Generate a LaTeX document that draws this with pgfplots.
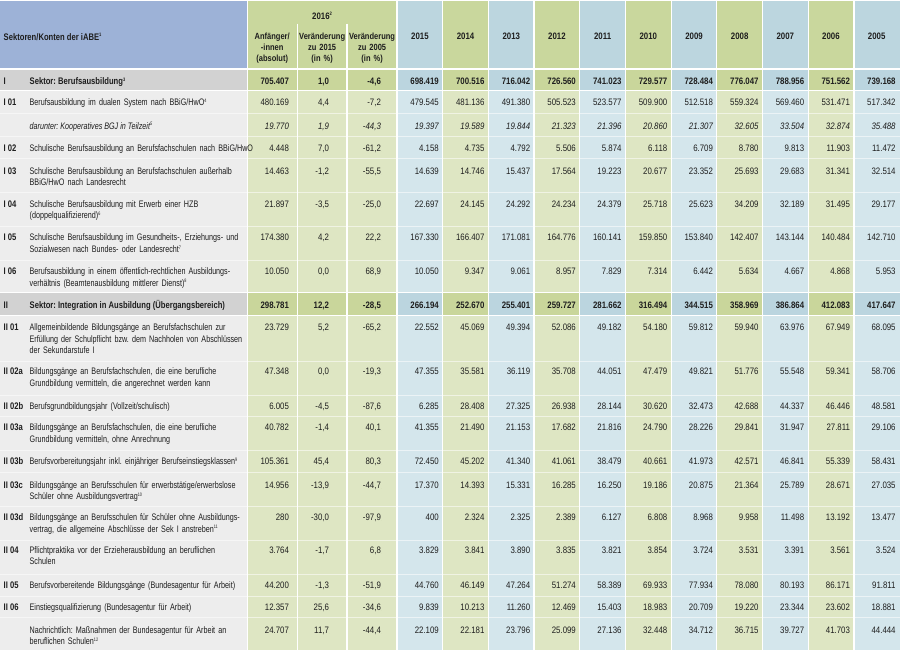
\documentclass[border=0pt]{standalone}
\usepackage{fontspec}
\setmainfont{Liberation Sans}[FakeStretch=0.76]
\newfontfamily\bfam{Liberation Sans}[FakeStretch=0.8]
\newfontfamily\nfam{Liberation Sans}[FakeStretch=0.84]
\usepackage{pgfplots}
\usepackage{pgfplotstable}
\pgfplotsset{compat=1.18}
\frenchspacing

\definecolor{hblue}{HTML}{9DB2D7}
\definecolor{hgreen}{HTML}{C9D79D}
\definecolor{hlblue}{HTML}{BCD6DF}
\definecolor{bgray}{HTML}{EDEDED}
\definecolor{sgray}{HTML}{D2D2D2}
\definecolor{bgreen}{HTML}{DEE6C3}
\definecolor{bblue}{HTML}{D4E6EC}
\definecolor{sgreen}{HTML}{C9D69B}
\definecolor{sblue}{HTML}{BBD5DF}
\definecolor{txt}{HTML}{1E1E1E}

\newcommand{\fL}{\frenchspacing\fontsize{9.5}{11.5}\selectfont}
\newcommand{\fB}{\bfam\bfseries\fontsize{9.6}{11.5}\selectfont}
\newcommand{\fN}{\nfam\fontsize{9.4}{11.5}\selectfont}
\newcommand{\fNB}{\nfam\bfseries\fontsize{9.4}{11.5}\selectfont}
\newcommand{\fNI}{\nfam\itshape\fontsize{9.4}{11.5}\selectfont}
\newcommand{\fH}{\nfam\bfseries\fontsize{9.0}{11.5}\selectfont}
\newcommand{\sps}[1]{\raisebox{3.3bp}{\fontsize{5}{5}\selectfont #1}}

% baseline y of each row, then the values: 2016 (absolut, zu 2015, zu 2005), 2015 ... 2005
\pgfplotstableread{
y a b c d15 d14 d13 d12 d11 d10 d09 d08 d07 d06 d05
105 480.169 4,4 -7,2 479.545 481.136 491.380 505.523 523.577 509.900 512.518 559.324 569.460 531.471 517.342
151 4.448 7,0 -61,2 4.158 4.735 4.792 5.506 5.874 6.118 6.709 8.780 9.813 11.903 11.472
174 14.463 -1,2 -55,5 14.639 14.746 15.437 17.564 19.223 20.677 23.352 25.693 29.683 31.341 32.514
207 21.897 -3,5 -25,0 22.697 24.145 24.292 24.234 24.379 25.718 25.623 34.209 32.189 31.495 29.177
240.5 174.380 4,2 22,2 167.330 166.407 171.081 164.776 160.141 159.850 153.840 142.407 143.144 140.484 142.710
274.5 10.050 0,0 68,9 10.050 9.347 9.061 8.957 7.829 7.314 6.442 5.634 4.667 4.868 5.953
330.5 23.729 5,2 -65,2 22.552 45.069 49.394 52.086 49.182 54.180 59.812 59.940 63.976 67.949 68.095
374.5 47.348 0,0 -19,3 47.355 35.581 36.119 35.708 44.051 47.479 49.821 51.776 55.548 59.341 58.706
409.5 6.005 -4,5 -87,6 6.285 28.408 27.325 26.938 28.144 30.620 32.473 42.688 44.337 46.446 48.581
430.5 40.782 -1,4 40,1 41.355 21.490 21.153 17.682 21.816 24.790 28.226 29.841 31.947 27.811 29.106
464.5 105.361 45,4 80,3 72.450 45.202 41.340 41.061 38.479 40.661 41.973 42.571 46.841 55.339 58.431
488 14.956 -13,9 -44,7 17.370 14.393 15.331 16.285 16.250 19.186 20.875 21.364 25.789 28.671 27.035
520.5 280 -30,0 -97,9 400 2.324 2.325 2.389 6.127 6.808 8.968 9.958 11.498 13.192 13.477
553.5 3.764 -1,7 6,8 3.829 3.841 3.890 3.835 3.821 3.854 3.724 3.531 3.391 3.561 3.524
588.5 44.200 -1,3 -51,9 44.760 46.149 47.264 51.274 58.389 69.933 77.934 78.080 80.193 86.171 91.811
610.5 12.357 25,6 -34,6 9.839 10.213 11.260 12.469 15.403 18.983 20.709 19.220 23.344 23.602 18.881
633.5 24.707 11,7 -44,4 22.109 22.181 23.796 25.099 27.136 32.448 34.712 36.715 39.727 41.703 44.444
}\normrows

\pgfplotstableread{
y a b c d15 d14 d13 d12 d11 d10 d09 d08 d07 d06 d05
84 705.407 1,0 -4,6 698.419 700.516 716.042 726.560 741.023 729.577 728.484 776.047 788.956 751.562 739.168
308 298.781 12,2 -28,5 266.194 252.670 255.401 259.727 281.662 316.494 344.515 358.969 386.864 412.083 417.647
}\sectrows

\pgfplotstableread{
y a b c d15 d14 d13 d12 d11 d10 d09 d08 d07 d06 d05
128.5 19.770 1,9 -44,3 19.397 19.589 19.844 21.323 21.396 20.860 21.307 32.605 33.504 32.874 35.488
}\darrows

\newcommand{\Col}[5]{%
 \addplot[draw=none, fill=#3] coordinates {(#1,0) (#2,0) (#2,67) (#1,67)};
 \addplot[draw=none, fill=#4] coordinates {(#1,69) (#2,69) (#2,650) (#1,650)};
 \addplot[draw=none, fill=#5] coordinates {(#1,69) (#2,69) (#2,90) (#1,90)};
 \addplot[draw=none, fill=#5] coordinates {(#1,293) (#2,293) (#2,315) (#1,315)};
}
\newcommand{\VL}[3]{\addplot[draw=white, line width=1.3bp] coordinates {(#1,#2) (#1,#3)};}
\newcommand{\HL}[2]{\addplot[draw=white, line width=1bp, draw opacity=#2] coordinates {(0,#1) (900,#1)};}

\newcommand{\One}[4]{%
 \addplot[only marks, mark=*, mark size=0pt, mark options={draw=none,fill=none},
   point meta=explicit symbolic, nodes near coords,
   every node near coord/.append style={anchor=base east, inner sep=0pt, font=#4, text=txt}]
   table[x expr=#3, y=y, meta=#2] {#1};}
\newcommand{\Vals}[2]{%
 \One{#1}{a}{289}{#2}\One{#1}{b}{329}{#2}\One{#1}{c}{381}{#2}%
 \One{#1}{d15}{439}{#2}\One{#1}{d14}{484.7}{#2}\One{#1}{d13}{530.5}{#2}%
 \One{#1}{d12}{576.2}{#2}\One{#1}{d11}{621.9}{#2}\One{#1}{d10}{667.7}{#2}%
 \One{#1}{d09}{713.4}{#2}\One{#1}{d08}{759.1}{#2}\One{#1}{d07}{804.8}{#2}%
 \One{#1}{d06}{850.6}{#2}\One{#1}{d05}{896.3}{#2}}

\newcommand{\Lab}[3]{%
 \node[anchor=base west, inner sep=0pt, font=\fB, text=txt] at (axis cs:3,#1) {#2};
 \node[anchor=base west, inner sep=0pt, text width=320bp, align=left, font=\fL, text=txt] at (axis cs:29,#1) {#3};}
\newcommand{\Yr}[2]{\node[anchor=base, inner sep=0pt, font=\fNB, text=txt] at (axis cs:#1,38.5) {#2};}

\begin{document}
\begin{tikzpicture}
\begin{axis}[width=900bp, height=656bp, scale only axis,
  xmin=0, xmax=900, ymin=0, ymax=656, y dir=reverse,
  hide axis, clip=false]
% backgrounds
\Col{0}{247}{hblue}{bgray}{sgray}
\Col{247}{397}{hgreen}{bgreen}{sgreen}
\Col{397}{442.7}{hlblue}{bblue}{sblue}
\Col{442.7}{488.5}{hgreen}{bgreen}{sgreen}
\Col{488.5}{534.2}{hlblue}{bblue}{sblue}
\Col{534.2}{579.9}{hgreen}{bgreen}{sgreen}
\Col{579.9}{625.7}{hlblue}{bblue}{sblue}
\Col{625.7}{671.4}{hgreen}{bgreen}{sgreen}
\Col{671.4}{717.1}{hlblue}{bblue}{sblue}
\Col{717.1}{762.8}{hgreen}{bgreen}{sgreen}
\Col{762.8}{808.6}{hlblue}{bblue}{sblue}
\Col{808.6}{854.3}{hgreen}{bgreen}{sgreen}
\Col{854.3}{900}{hlblue}{bblue}{sblue}
% row separators
\HL{90}{1}\HL{292.5}{1}\HL{315}{1}
\HL{113}{0.55}\HL{136}{0.55}\HL{158}{0.55}\HL{192}{0.55}\HL{226}{0.55}\HL{260}{0.55}
\HL{361}{0.55}\HL{395}{0.55}\HL{416}{0.55}\HL{450}{0.55}\HL{472}{0.55}\HL{506}{0.55}
\HL{540}{0.55}\HL{574}{0.55}\HL{596}{0.55}\HL{618}{0.55}
% column separators
\VL{247}{0}{650}\VL{297}{23}{650}\VL{347}{23}{650}\VL{397}{0}{650}
\VL{442.7}{0}{650}\VL{488.5}{0}{650}\VL{534.2}{0}{650}\VL{579.9}{0}{650}
\VL{625.7}{0}{650}\VL{671.4}{0}{650}\VL{717.1}{0}{650}\VL{762.8}{0}{650}
\VL{808.6}{0}{650}\VL{854.3}{0}{650}
% values
\Vals{\normrows}{\fN}
\Vals{\sectrows}{\fNB}
\Vals{\darrows}{\fNI}
% header
\node[anchor=base west, inner sep=0pt, font=\fB, text=txt] at (axis cs:3,39.5) {Sektoren/Konten der iABE\sps{1}};
\node[anchor=base, inner sep=0pt, font=\fNB, text=txt] at (axis cs:322,18.5) {2016\sps{2}};
\node[anchor=base, inner sep=0pt, text width=50bp, align=center, font=\fH, text=txt] at (axis cs:272,38.5) {Anfänger/\\-innen\\(absolut)};
\node[anchor=base, inner sep=0pt, text width=50bp, align=center, font=\fH, text=txt] at (axis cs:322,38.5) {Veränderung\\zu 2015\\(in \%)};
\node[anchor=base, inner sep=0pt, text width=50bp, align=center, font=\fH, text=txt] at (axis cs:372,38.5) {Veränderung\\zu 2005\\(in \%)};
\Yr{419.9}{2015}\Yr{465.6}{2014}\Yr{511.4}{2013}\Yr{557.1}{2012}\Yr{602.8}{2011}
\Yr{648.5}{2010}\Yr{694.3}{2009}\Yr{740}{2008}\Yr{785.7}{2007}\Yr{831.4}{2006}\Yr{877.1}{2005}
% row labels
\node[anchor=base west, inner sep=0pt, font=\fB, text=txt] at (axis cs:3,84) {I};
\node[anchor=base west, inner sep=0pt, font=\fB, text=txt] at (axis cs:29,84) {Sektor: Berufsausbildung\sps{3}};
\Lab{105}{I 01}{Berufsausbildung im dualen System nach BBiG/HwO\sps{4}}
\node[anchor=base west, inner sep=0pt, font=\fL\itshape, text=txt] at (axis cs:29,128.5) {darunter: Kooperatives BGJ in Teilzeit\sps{5}};
\Lab{151}{I 02}{Schulische Berufsausbildung an Berufsfachschulen nach BBiG/HwO}
\Lab{174}{I 03}{Schulische Berufsausbildung an Berufsfachschulen außerhalb\\BBiG/HwO nach Landesrecht}
\Lab{207}{I 04}{Schulische Berufsausbildung mit Erwerb einer HZB\\(doppelqualifizierend)\sps{6}}
\Lab{240.5}{I 05}{Schulische Berufsausbildung im Gesundheits-, Erziehungs- und\\Sozialwesen nach Bundes- oder Landesrecht\sps{7}}
\Lab{274.5}{I 06}{Berufsausbildung in einem öffentlich-rechtlichen Ausbildungs-\\verhältnis (Beamtenausbildung mittlerer Dienst)\sps{8}}
\node[anchor=base west, inner sep=0pt, font=\fB, text=txt] at (axis cs:3,308) {II};
\node[anchor=base west, inner sep=0pt, font=\fB, text=txt] at (axis cs:29,308) {Sektor: Integration in Ausbildung (Übergangsbereich)};
\Lab{330.5}{II 01}{Allgemeinbildende Bildungsgänge an Berufsfachschulen zur\\Erfüllung der Schulpflicht bzw. dem Nachholen von Abschlüssen\\der Sekundarstufe I}
\Lab{374.5}{II 02a}{Bildungsgänge an Berufsfachschulen, die eine berufliche\\Grundbildung vermitteln, die angerechnet werden kann}
\Lab{409.5}{II 02b}{Berufsgrundbildungsjahr (Vollzeit/schulisch)}
\Lab{430.5}{II 03a}{Bildungsgänge an Berufsfachschulen, die eine berufliche\\Grundbildung vermitteln, ohne Anrechnung}
\Lab{464.5}{II 03b}{Berufsvorbereitungsjahr inkl. einjähriger Berufseinstiegsklassen\sps{9}}
\Lab{488}{II 03c}{Bildungsgänge an Berufsschulen für erwerbstätige/erwerbslose\\Schüler ohne Ausbildungsvertrag\sps{10}}
\Lab{520.5}{II 03d}{Bildungsgänge an Berufsschulen für Schüler ohne Ausbildungs-\\vertrag, die allgemeine Abschlüsse der Sek I anstreben\sps{11}}
\Lab{553.5}{II 04}{Pflichtpraktika vor der Erzieherausbildung an beruflichen\\Schulen}
\Lab{588.5}{II 05}{Berufsvorbereitende Bildungsgänge (Bundesagentur für Arbeit)}
\Lab{610.5}{II 06}{Einstiegsqualifizierung (Bundesagentur für Arbeit)}
\Lab{633.5}{}{Nachrichtlich: Maßnahmen der Bundesagentur für Arbeit an\\beruflichen Schulen\sps{12}}
\end{axis}
\end{tikzpicture}
\end{document}
